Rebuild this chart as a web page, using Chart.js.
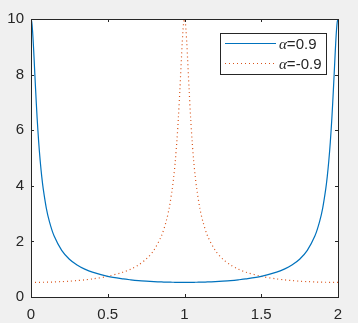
<!DOCTYPE html>
<html>
<head>
<meta charset="utf-8">
<script src="https://cdn.jsdelivr.net/npm/chart.js@4"></script>
<style>
  html, body { margin: 0; padding: 0; background: #f0f0f0; }
  #wrap { width: 358px; height: 323px; }
</style>
</head>
<body>
<div id="wrap"><canvas id="respChart" width="358" height="323"></canvas></div>
<script>
// values
const xValues = [0,0.005,0.01,0.015,0.02,0.03,0.04,0.05,0.06,0.07,0.08,0.1,0.12,0.15,0.2,0.25,0.3,0.35,0.4,0.5,
  0.6,0.65,0.7,0.75,0.8,0.85,0.88,0.9,0.92,0.93,0.94,0.95,0.96,0.97,0.98,0.985,0.99,0.995,1,
  1.005,1.01,1.015,1.02,1.03,1.04,1.05,1.06,1.07,1.08,1.1,1.12,1.15,1.2,1.25,1.3,1.35,1.4,1.5,
  1.6,1.65,1.7,1.75,1.8,1.85,1.88,1.9,1.92,1.93,1.94,1.95,1.96,1.97,1.98,1.985,1.99,1.995,2];
const alphaPos = [10,9.89,9.58,9.13,8.59,7.46,6.43,5.58,4.89,4.33,3.88,3.19,2.71,2.20,1.68,1.36,1.153,1.004,0.893,0.743,
  0.650,0.617,0.590,0.570,0.553,0.541,0.536,0.533,0.531,0.530,0.529,0.528,0.527,0.527,0.527,0.526,0.526,0.526,0.526,
  0.526,0.526,0.526,0.527,0.527,0.527,0.528,0.529,0.530,0.531,0.533,0.536,0.541,0.553,0.570,0.590,0.617,0.650,0.743,
  0.893,1.004,1.153,1.36,1.68,2.20,2.71,3.19,3.88,4.33,4.89,5.58,6.43,7.46,8.59,9.13,9.58,9.89,10];
const alphaNeg = [0.526,0.526,0.526,0.526,0.527,0.527,0.527,0.528,0.529,0.530,0.531,0.533,0.536,0.541,0.553,0.570,0.590,0.617,0.650,0.743,
  0.893,1.004,1.153,1.36,1.68,2.20,2.71,3.19,3.88,4.33,4.89,5.58,6.43,7.46,8.59,9.13,9.58,9.89,10,
  9.89,9.58,9.13,8.59,7.46,6.43,5.58,4.89,4.33,3.88,3.19,2.71,2.20,1.68,1.36,1.153,1.004,0.893,0.743,
  0.650,0.617,0.590,0.570,0.553,0.541,0.536,0.533,0.531,0.530,0.529,0.528,0.527,0.527,0.527,0.526,0.526,0.526,0.526];
const seriesLabels = ['α=0.9', 'α=-0.9'];
const xTicks = [0, 0.5, 1, 1.5, 2];
const yTicks = [0, 2, 4, 6, 8, 10];

const axisColor = '#262626';
const tickFont = { family: 'Arial, "Liberation Sans", sans-serif', size: 15 };

// white plot area, box with inward ticks, legend
const matlabAxes = {
  id: 'matlabAxes',
  beforeDatasetsDraw(chart) {
    const { ctx, chartArea: a } = chart;
    ctx.save();
    ctx.fillStyle = '#ffffff';
    ctx.fillRect(a.left, a.top, a.right - a.left, a.bottom - a.top);
    ctx.restore();
  },
  afterDraw(chart) {
    const { ctx, chartArea: a, scales } = chart;
    ctx.save();
    ctx.strokeStyle = axisColor;
    ctx.lineWidth = 1;
    ctx.beginPath();
    const tl = 3;
    xTicks.forEach(v => {
      const px = Math.round(scales.x.getPixelForValue(v)) + 0.5;
      ctx.moveTo(px, a.bottom); ctx.lineTo(px, a.bottom - tl);
      ctx.moveTo(px, a.top); ctx.lineTo(px, a.top + tl);
    });
    yTicks.forEach(v => {
      const py = Math.round(scales.y.getPixelForValue(v)) + 0.5;
      ctx.moveTo(a.left, py); ctx.lineTo(a.left + tl, py);
      ctx.moveTo(a.right, py); ctx.lineTo(a.right - tl, py);
    });
    ctx.stroke();
    ctx.strokeRect(Math.round(a.left) + 0.5, Math.round(a.top) + 0.5,
      Math.round(a.right - a.left), Math.round(a.bottom - a.top));

    // legend box
    const bx = 220.5, by = 33.5, bw = 106, bh = 41;
    ctx.fillStyle = '#ffffff';
    ctx.fillRect(bx, by, bw, bh);
    ctx.strokeRect(bx, by, bw, bh);
    chart.data.datasets.forEach((ds, i) => {
      const y = 43.5 + i * 20;
      ctx.beginPath();
      ctx.strokeStyle = ds.borderColor;
      ctx.lineWidth = 1;
      ctx.setLineDash(ds.borderDash || []);
      ctx.moveTo(225, y); ctx.lineTo(276, y);
      ctx.stroke();
      ctx.setLineDash([]);
      ctx.fillStyle = axisColor;
      ctx.textBaseline = 'middle';
      ctx.font = 'italic 15px "Liberation Serif", "DejaVu Serif", serif';
      const greek = ds.label.charAt(0);
      ctx.fillText(greek, 279, y + 2);
      const gw = ctx.measureText(greek).width;
      ctx.font = '15px Arial, "Liberation Sans", sans-serif';
      ctx.fillText(ds.label.slice(1), 279 + gw, y + 1.5);
    });
    ctx.restore();
  }
};

new Chart(document.getElementById('respChart'), {
  type: 'line',
  data: {
    labels: xValues,
    datasets: [
      { label: seriesLabels[0], data: xValues.map((x, i) => ({ x: x, y: alphaPos[i] })),
        borderColor: '#0072BD', borderWidth: 1.2, pointRadius: 0, tension: 0.3, fill: false },
      { label: seriesLabels[1], data: xValues.map((x, i) => ({ x: x, y: alphaNeg[i] })),
        borderColor: '#D95319', borderWidth: 1.2, borderDash: [1, 3], pointRadius: 0, tension: 0.3, fill: false }
    ]
  },
  options: {
    responsive: false,
    animation: false,
    layout: { padding: { top: 19, right: 20, left: 0, bottom: 0 } },
    plugins: { legend: { display: false }, tooltip: { enabled: false } },
    scales: {
      x: {
        type: 'linear', min: 0, max: 2,
        afterBuildTicks: s => { s.ticks = xTicks.map(v => ({ value: v })); },
        afterFit: s => { s.height = 26; },
        grid: { display: false, drawTicks: false },
        border: { display: false },
        ticks: { color: axisColor, font: tickFont, padding: 9, maxRotation: 0, autoSkip: false,
          callback: v => String(v) }
      },
      y: {
        min: 0, max: 10,
        afterBuildTicks: s => { s.ticks = yTicks.map(v => ({ value: v })); },
        afterFit: s => { s.width = 31; },
        grid: { display: false, drawTicks: false },
        border: { display: false },
        ticks: { color: axisColor, font: tickFont, padding: 7, autoSkip: false,
          callback: v => String(v) }
      }
    }
  },
  plugins: [matlabAxes]
});
</script>
</body>
</html>
